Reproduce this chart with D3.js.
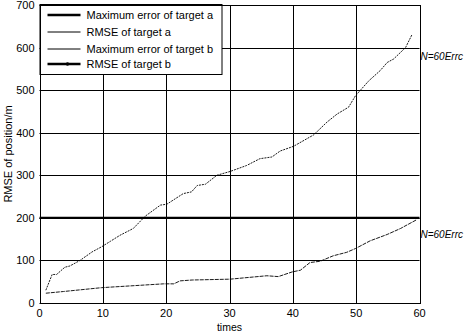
<!DOCTYPE html>
<html>
<head>
<meta charset="utf-8">
<script src="https://cdn.jsdelivr.net/npm/d3@7"></script>
<style>
  body { margin: 0; background: #fff; }
  svg { display: block; font-family: "Liberation Sans", Arial, sans-serif; }
</style>
</head>
<body>
<div id="chart"></div>
<script>
// data
const xTicks = [0, 10, 20, 30, 40, 50, 60]
const yTicks = [0, 100, 200, 300, 400, 500, 600, 700]
const legendNames = ["Maximum error of target a", "RMSE of target a", "Maximum error of target b", "RMSE of target b"]

// thick flat line (Maximum error of target a)
const maxErrA = [[0, 200], [60, 200]]

// upper curve
const upperTimes = [1, 2, 2.7, 4, 4.8, 6.4, 8.3, 9.8, 11.2, 12.7, 14.8, 16.7, 19.1, 20.1, 22.7, 24, 24.9, 26.2, 28, 30.1, 32.7, 34.8, 36.7, 38, 40.1, 43.3, 45.4, 47, 48.8, 49.9, 52, 53.8, 54.9, 55.9, 57.8, 58.8]
const upperValues = [30, 67, 67, 84, 87, 100, 120, 132, 145, 159, 175, 204, 230, 232, 257, 261, 276, 279, 300, 309, 323, 339, 343, 357, 368, 395, 425, 444, 460, 487, 522, 546, 565, 573, 600, 630]

// lower curve
const lowerTimes = [1, 3.8, 9.8, 19.6, 21.2, 22.2, 24.1, 30.1, 35.9, 37.7, 39.9, 41.2, 42.7, 44.3, 46.4, 48.5, 49.9, 52.2, 54.9, 57, 59.6]
const lowerValues = [23, 27, 36, 45, 45, 52, 54, 56, 64, 62, 73, 77, 95, 98, 111, 119, 128, 146, 161, 175, 196]

const annotations = ["N=60Errc", "N=60Errc"]
const annotationValues = [580, 163]

const W = 466, H = 332
const margin = { left: 39.5, right: 46.5, top: 5, bottom: 29 }

const svg = d3.select("#chart").append("svg")
  .attr("width", W).attr("height", H)

const x = d3.scaleLinear().domain([0, 60]).range([margin.left, W - margin.right])
const y = d3.scaleLinear().domain([0, 700]).range([H - margin.bottom, margin.top])

// grid
svg.append("g")
  .selectAll("line.v")
  .data(xTicks)
  .enter().append("line")
  .attr("x1", d => Math.round(x(d)) + 0.5).attr("x2", d => Math.round(x(d)) + 0.5)
  .attr("y1", y(0)).attr("y2", y(700))
  .attr("stroke", "#000").attr("stroke-width", 1)

svg.append("g")
  .selectAll("line.h")
  .data(yTicks)
  .enter().append("line")
  .attr("x1", x(0)).attr("x2", x(60))
  .attr("y1", d => Math.round(y(d)) + 0.5).attr("y2", d => Math.round(y(d)) + 0.5)
  .attr("stroke", "#000").attr("stroke-width", 1)

// tick labels
svg.append("g")
  .selectAll("text")
  .data(xTicks)
  .enter().append("text")
  .attr("x", d => x(d)).attr("y", y(0) + 14)
  .attr("text-anchor", "middle")
  .attr("font-size", 11)
  .text(d => d)

svg.append("g")
  .selectAll("text")
  .data(yTicks)
  .enter().append("text")
  .attr("x", x(0) - 5).attr("y", d => y(d) + 4)
  .attr("text-anchor", "end")
  .attr("font-size", 11)
  .text(d => d)

// axis titles
svg.append("text")
  .attr("x", x(30)).attr("y", H - 1)
  .attr("text-anchor", "middle").attr("font-size", 10.5)
  .text("times")

svg.append("text")
  .attr("transform", "translate(12," + ((y(0) + y(700)) / 2) + ")rotate(-90)")
  .attr("text-anchor", "middle").attr("font-size", 11)
  .text("RMSE of position/m")

// series
const line = d3.line().x(d => x(d[0])).y(d => y(d[1]))

svg.append("path")
  .attr("d", line(maxErrA))
  .attr("fill", "none").attr("stroke", "#000").attr("stroke-width", 2.2)

svg.append("path")
  .attr("d", line(upperTimes.map((t, i) => [t, upperValues[i]])))
  .attr("fill", "none").attr("stroke", "#000").attr("stroke-width", 0.9)
  .attr("stroke-dasharray", "2,1")

svg.append("path")
  .attr("d", line(lowerTimes.map((t, i) => [t, lowerValues[i]])))
  .attr("fill", "none").attr("stroke", "#000").attr("stroke-width", 0.9)
  .attr("stroke-dasharray", "4,1")

// annotations on the right
svg.append("g")
  .selectAll("text")
  .data(annotations)
  .enter().append("text")
  .attr("x", x(60) + 1).attr("y", (d, i) => y(annotationValues[i]) + 4)
  .attr("font-size", 10).attr("font-style", "italic")
  .text(d => d)

// legend
const legend = svg.append("g").attr("transform", "translate(" + x(0) + "," + (y(700) - 1) + ")")
legend.append("rect")
  .attr("x", 0.5).attr("y", 0.5).attr("width", 182).attr("height", 70)
  .attr("fill", "#fff").attr("stroke", "#000")

const rowY = [11, 28, 45, 60]
const rowW = [2.5, 1, 1, 2.5]
legendNames.forEach((name, i) => {
  legend.append("line")
    .attr("x1", 8).attr("x2", 41)
    .attr("y1", rowY[i]).attr("y2", rowY[i])
    .attr("stroke", "#000").attr("stroke-width", rowW[i])
  if (i === 3) {
    legend.append("circle").attr("cx", 28).attr("cy", rowY[i]).attr("r", 1.8).attr("fill", "#000")
  }
  legend.append("text")
    .attr("x", 47).attr("y", rowY[i] + 4)
    .attr("font-size", 11)
    .text(name)
})

// plot frame
svg.append("rect")
  .attr("x", Math.round(x(0)) + 0.5).attr("y", Math.round(y(700)) + 0.5)
  .attr("width", Math.round(x(60)) - Math.round(x(0)))
  .attr("height", Math.round(y(0)) - Math.round(y(700)))
  .attr("fill", "none").attr("stroke", "#000")
</script>
</body>
</html>
